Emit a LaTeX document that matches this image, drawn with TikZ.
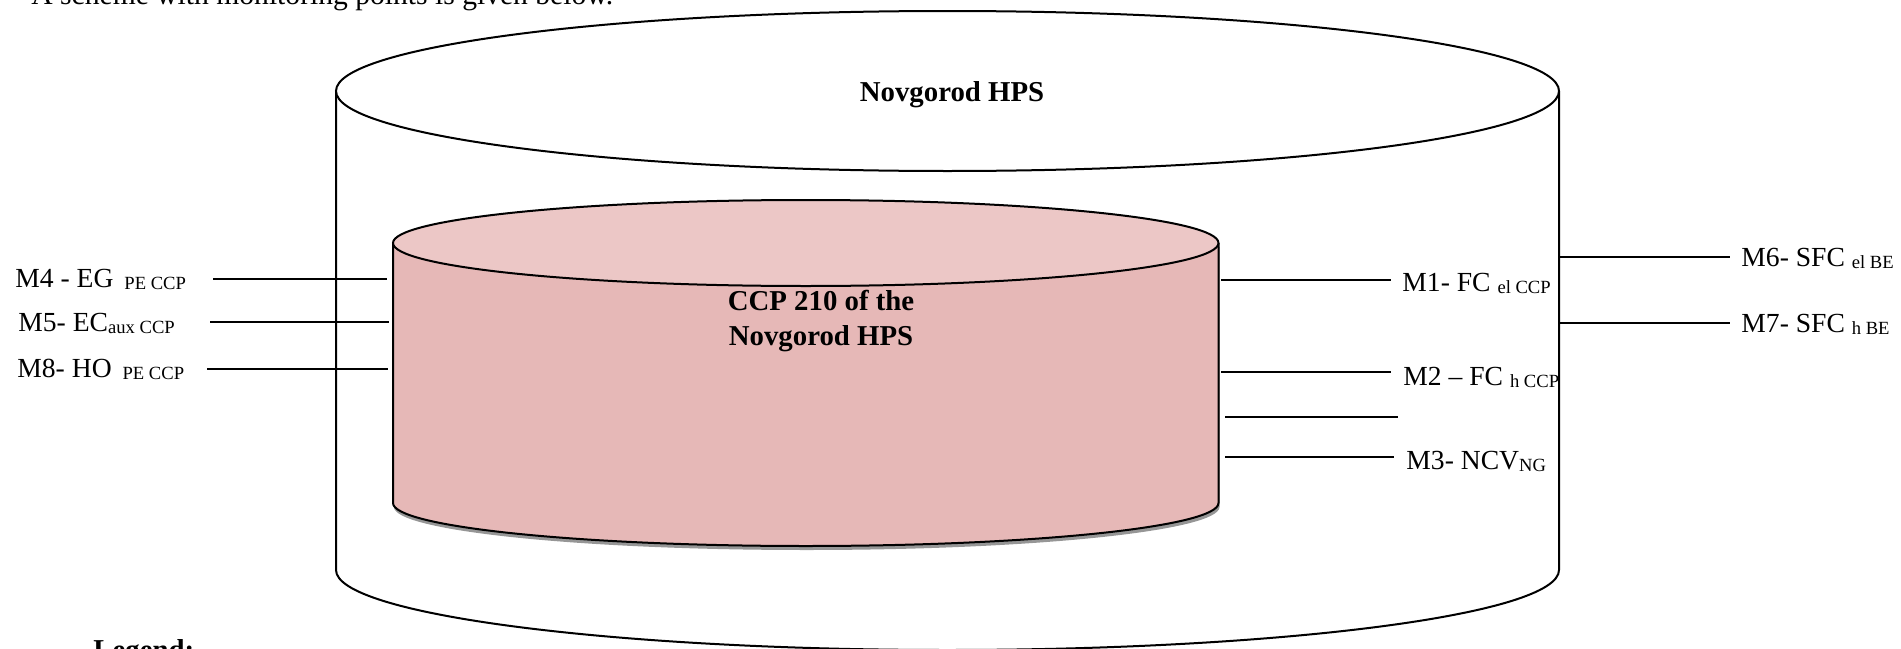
\documentclass[tikz,border=0pt]{standalone}
\usepackage{fontspec}
\setmainfont{Liberation Serif}
\usepackage{xcolor}
\usepackage{tikz}
\usetikzlibrary{positioning}
\definecolor{ccpside}{RGB}{230,184,183}
\definecolor{ccptop}{RGB}{236,199,198}
\definecolor{ccpshadow}{RGB}{150,150,150}
\newcommand{\lo}[1]{\raisebox{-1.4pt}{\fontsize{9.3}{10}\selectfont #1}}

\begin{document}
\begin{tikzpicture}[x=0.5pt,y=-0.5pt,
    wire/.style={line width=1pt},
    lbl/.style={anchor=base west,inner sep=0pt,font=\fontsize{13.8}{16}\selectfont},
    title/.style={align=center,inner sep=0pt,font=\fontsize{14.4}{17.5}\selectfont\bfseries}]
    \useasboundingbox (0,0) rectangle (1901,648);
    \clip (0,0) rectangle (1901,648);

    % Outer cylinder (HPS)
    \draw[wire] (336,91) -- (336,570) arc[start angle=180,end angle=0,x radius=611.5,y radius=80] -- (1559,91);
    \draw[wire,fill=white] (947.5,91) ellipse [x radius=611.5,y radius=80];

    % Inner cylinder (CCP)
    \fill[ccpshadow,shift={(1,4)}] (393,243) -- (393,503) arc[start angle=180,end angle=0,x radius=412.75,y radius=43] -- (1218.5,243) -- cycle;
    \draw[wire,fill=ccpside] (393,243) -- (393,503) arc[start angle=180,end angle=0,x radius=412.75,y radius=43] -- (1218.5,243);
    \draw[wire,fill=ccptop] (805.75,243) ellipse [x radius=412.75,y radius=43];

    % Titles
    \node[title,anchor=base] (hps) at (952,101) {Novgorod HPS};
    \node[title] (ccp) at (821,321) {CCP 210 of the\\Novgorod HPS};

    % Text above and below
    \node[anchor=base west,inner sep=0pt,font=\fontsize{14.8}{17}\selectfont] (intro) at (31,4) {A scheme with monitoring points is given below.};
    \node[anchor=base west,inner sep=0pt,font=\fontsize{14.4}{17}\selectfont\bfseries] (legend) at (93,659) {Legend:};

    % Monitoring points, left
    \node[lbl] (m4) at (15,287) {M4 - EG \kern2pt\lo{PE CCP}};
    \node[lbl] (m5) at (18,331) {M5- EC\lo{aux CCP}};
    \node[lbl] (m8) at (17,377) {M8- HO \kern2pt\lo{PE CCP}};
    \coordinate (m4a) at (213,279); \coordinate (m4b) at (387,279);
    \coordinate (m5a) at (210,322); \coordinate (m5b) at (389,322);
    \coordinate (m8a) at (207,369); \coordinate (m8b) at (388,369);
    \draw[wire] (m4a) -- (m4b);
    \draw[wire] (m5a) -- (m5b);
    \draw[wire] (m8a) -- (m8b);

    % Monitoring points, right (CCP)
    \node[lbl] (m1) at (1402,291) {M1- FC \lo{el CCP}};
    \node[lbl] (m2) at (1403,385) {M2 – FC \lo{h CCP}};
    \node[lbl] (m3) at (1406,469) {M3- NCV\lo{NG}};
    \coordinate (m1a) at (1221,280); \coordinate (m1b) at (1391,280);
    \coordinate (m2a) at (1221,372); \coordinate (m2b) at (1391,372);
    \coordinate (xa) at (1225,417); \coordinate (xb) at (1398,417);
    \coordinate (m3a) at (1225,457); \coordinate (m3b) at (1394,457);
    \draw[wire] (m1a) -- (m1b);
    \draw[wire] (m2a) -- (m2b);
    \draw[wire] (xa) -- (xb);
    \draw[wire] (m3a) -- (m3b);

    % Monitoring points, right (HPS)
    \node[lbl] (m6) at (1741,266) {M6- SFC \lo{el BE}};
    \node[lbl] (m7) at (1741,332) {M7- SFC \lo{h BE}};
    \coordinate (m6a) at (1560,257); \coordinate (m6b) at (1730,257);
    \coordinate (m7a) at (1560,323); \coordinate (m7b) at (1730,323);
    \draw[wire] (m6a) -- (m6b);
    \draw[wire] (m7a) -- (m7b);
\end{tikzpicture}
\end{document}
